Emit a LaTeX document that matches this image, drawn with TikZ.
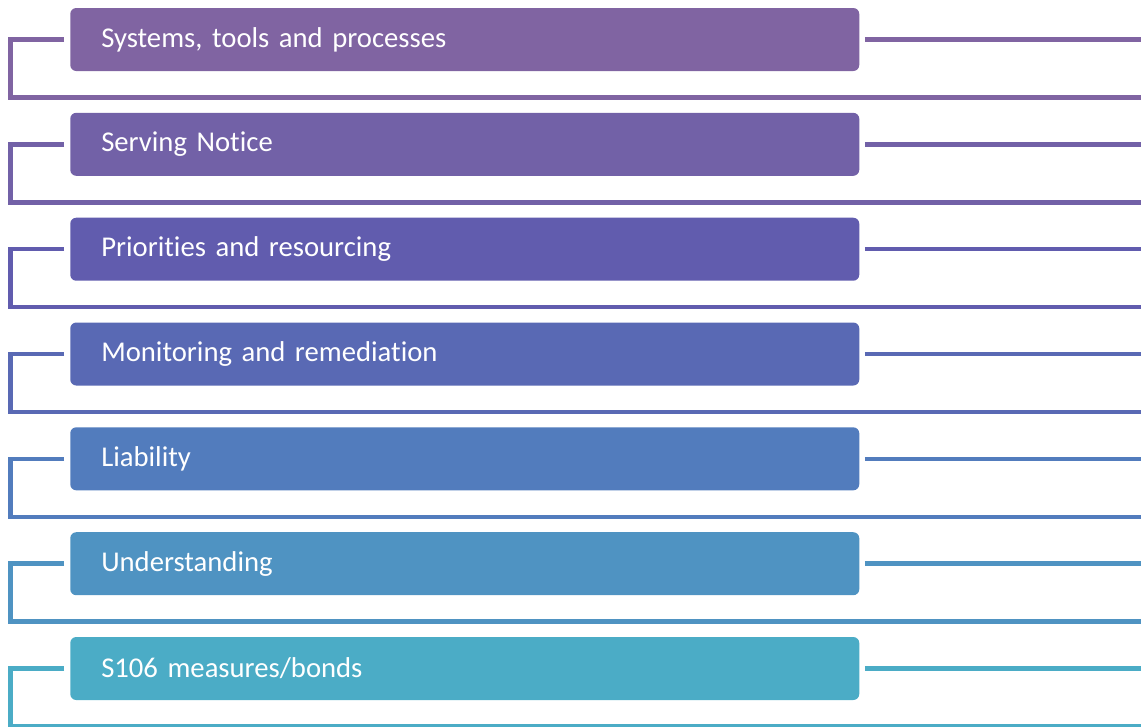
\documentclass[tikz,border=0pt]{standalone}
\usepackage{fontspec}
\setmainfont{Carlito}[Ligatures=NoCommon]
\definecolor{rowa}{RGB}{128,100,162}
\definecolor{rowb}{RGB}{114,97,167}
\definecolor{rowc}{RGB}{97,92,174}
\definecolor{rowd}{RGB}{89,105,180}
\definecolor{rowe}{RGB}{82,124,189}
\definecolor{rowf}{RGB}{79,147,194}
\definecolor{rowg}{RGB}{75,172,198}
\begin{document}
\begin{tikzpicture}[x=0.75pt, y=-0.75pt,
    box/.style={rounded corners=4.5pt, anchor=west, minimum height=47.25pt,
      inner xsep=23.25pt, text width=545.25pt, align=left, text=white,
      font=\fontsize{21.5}{25}\selectfont},
    link/.style={line width=3.4pt}]
    \useasboundingbox (0, 0) rectangle (1141, 726);
    \node[box, fill=rowa] (a) at (70, 39.5) {Systems, tools and processes};
    \node[box, fill=rowb] (b) at (70, 144.3) {Serving Notice};
    \node[box, fill=rowc] (c) at (70, 249.2) {Priorities and resourcing};
    \node[box, fill=rowd] (d) at (70, 354) {Monitoring and remediation};
    \node[box, fill=rowe] (e) at (70, 458.8) {Liability};
    \node[box, fill=rowf] (f) at (70, 563.7) {Understanding};
    \node[box, fill=rowg] (g) at (70, 668.5) {S106 measures/bonds};
    \coordinate (a1) at (10.5, 97.5);
    \coordinate (b1) at (10.5, 202.3);
    \coordinate (c1) at (10.5, 307.2);
    \coordinate (d1) at (10.5, 412);
    \coordinate (e1) at (10.5, 516.8);
    \coordinate (f1) at (10.5, 621.7);
    \coordinate (g1) at (10.5, 726.5);
    \coordinate (r) at (1141, 0);
    \draw[link, rowa] ([xshift=-4.5pt]a.west) -| (a1) -- (a1 -| r);
    \draw[link, rowa] ([xshift=4pt]a.east) -- (a.east -| r);
    \draw[link, rowb] ([xshift=-4.5pt]b.west) -| (b1) -- (b1 -| r);
    \draw[link, rowb] ([xshift=4pt]b.east) -- (b.east -| r);
    \draw[link, rowc] ([xshift=-4.5pt]c.west) -| (c1) -- (c1 -| r);
    \draw[link, rowc] ([xshift=4pt]c.east) -- (c.east -| r);
    \draw[link, rowd] ([xshift=-4.5pt]d.west) -| (d1) -- (d1 -| r);
    \draw[link, rowd] ([xshift=4pt]d.east) -- (d.east -| r);
    \draw[link, rowe] ([xshift=-4.5pt]e.west) -| (e1) -- (e1 -| r);
    \draw[link, rowe] ([xshift=4pt]e.east) -- (e.east -| r);
    \draw[link, rowf] ([xshift=-4.5pt]f.west) -| (f1) -- (f1 -| r);
    \draw[link, rowf] ([xshift=4pt]f.east) -- (f.east -| r);
    \draw[link, rowg] ([xshift=-4.5pt]g.west) -| (g1) -- (g1 -| r);
    \draw[link, rowg] ([xshift=4pt]g.east) -- (g.east -| r);
  \end{tikzpicture}
\end{document}
